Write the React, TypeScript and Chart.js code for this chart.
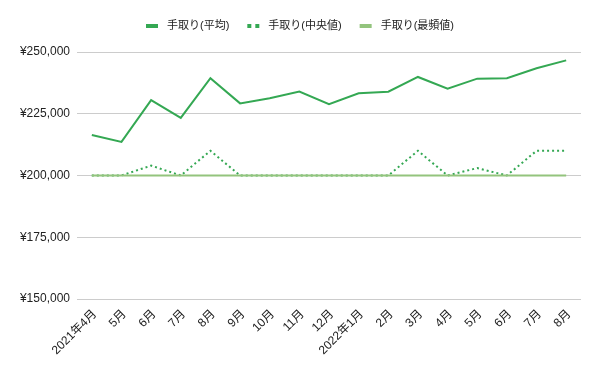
import React, { useEffect, useRef } from "react";
import { Chart, registerables } from "chart.js";

Chart.register(...registerables);

const categories = [
  "2021年4月", "5月", "6月", "7月", "8月", "9月", "10月", "11月", "12月",
  "2022年1月", "2月", "3月", "4月", "5月", "6月", "7月", "8月",
];
const meanValues = [
  216400, 213600, 230500, 223300, 239400, 229200, 231300, 234000, 228900,
  233300, 233900, 239900, 235100, 239200, 239400, 243400, 246600,
];
const medianValues = [
  200000, 200000, 204000, 200000, 210000, 200000, 200000, 200000, 200000,
  200000, 200000, 210000, 200000, 203000, 200000, 210000, 210000,
];
const modeValues = [
  200000, 200000, 200000, 200000, 200000, 200000, 200000, 200000, 200000,
  200000, 200000, 200000, 200000, 200000, 200000, 200000, 200000,
];
const seriesNames = ["手取り(平均)", "手取り(中央値)", "手取り(最頻値)"];
const yTicks = [150000, 175000, 200000, 225000, 250000];

const FONT = "'Liberation Sans', Arial, 'Noto Sans CJK JP', sans-serif";
const DARK = "#34a853";
const LIGHT = "#93c47d";

const legendPlugin = {
  id: "customLegend",
  afterDraw(chart: any) {
    const ctx = chart.ctx;
    ctx.save();
    ctx.font = `11px ${FONT}`;
    ctx.textBaseline = "middle";
    const sw = 12, gap = 9, between = 18;
    const items = chart.data.datasets.map((d: any) => ({
      label: d.label,
      color: d.borderColor,
      dotted: !!d.borderDash,
      w: ctx.measureText(d.label).width,
    }));
    const total = items.reduce((s: number, it: any) => s + sw + gap + it.w, 0) + between * (items.length - 1);
    let x = Math.round(chart.width / 2 - total / 2);
    const y = 26;
    items.forEach((it: any) => {
      ctx.fillStyle = it.color;
      if (it.dotted) {
        ctx.fillRect(x, y - 2, 4, 4);
        ctx.fillRect(x + 8, y - 2, 4, 4);
      } else {
        ctx.fillRect(x, y - 2, sw, 4);
      }
      x += sw + gap;
      ctx.fillStyle = "#222";
      ctx.fillText(it.label, x, y);
      x += it.w + between;
    });
    ctx.restore();
  },
};

export default function App() {
  const ref = useRef<HTMLCanvasElement>(null);
  useEffect(() => {
    document.body.style.margin = "0";
    const chart = new Chart(ref.current!, {
      type: "line",
      data: {
        labels: categories,
        datasets: [
          {
            label: seriesNames[0],
            data: meanValues,
            borderColor: DARK,
            backgroundColor: DARK,
            borderWidth: 2,
            pointRadius: 0,
            tension: 0,
            order: 2,
          },
          {
            label: seriesNames[1],
            data: medianValues,
            borderColor: DARK,
            backgroundColor: DARK,
            borderWidth: 2,
            borderDash: [2, 3],
            pointRadius: 0,
            tension: 0,
            order: 1,
          },
          {
            label: seriesNames[2],
            data: modeValues,
            borderColor: LIGHT,
            backgroundColor: LIGHT,
            borderWidth: 2,
            pointRadius: 0,
            tension: 0,
            order: 0,
          },
        ],
      },
      options: {
        animation: false,
        responsive: false,
        maintainAspectRatio: false,
        layout: { padding: { top: 52, right: 19, left: 0, bottom: 0 } },
        plugins: { legend: { display: false }, tooltip: { enabled: false } },
        scales: {
          x: {
            offset: true,
            grid: { display: false, drawTicks: false },
            border: { display: false },
            ticks: {
              autoSkip: false,
              minRotation: 45,
              maxRotation: 45,
              padding: 8,
              labelOffset: 3,
              color: "#222",
              font: { family: FONT, size: 12 },
            },
            afterFit: (scale: any) => {
              scale.height = 72;
            },
          },
          y: {
            min: 150000,
            max: 250000,
            afterBuildTicks: (scale: any) => {
              scale.ticks = yTicks.map((v) => ({ value: v }));
            },
            grid: { color: "#cccccc", drawTicks: false, lineWidth: 1 },
            border: { display: false },
            ticks: {
              padding: 7,
              color: "#222",
              font: { family: FONT, size: 12 },
              callback: (v: any) => "¥" + Number(v).toLocaleString("en-US"),
            },
            afterFit: (scale: any) => {
              scale.width = 77;
            },
          },
        },
      },
      plugins: [legendPlugin],
    });
    return () => chart.destroy();
  }, []);
  return <canvas ref={ref} width={600} height={371} style={{ display: "block" }} />;
}
